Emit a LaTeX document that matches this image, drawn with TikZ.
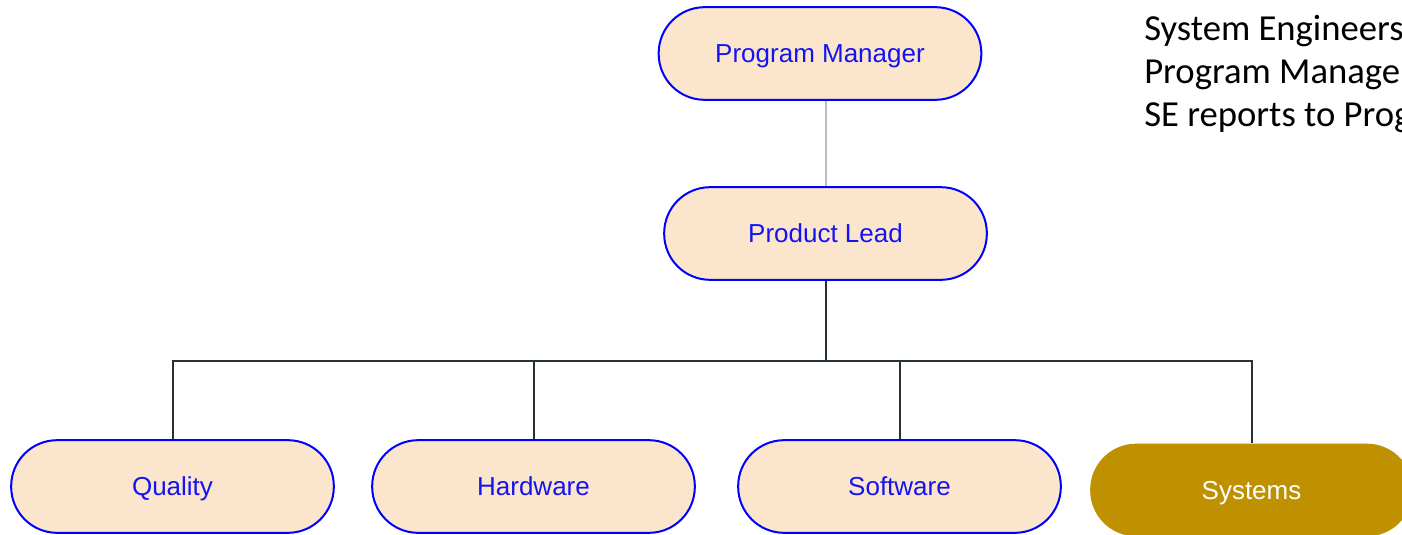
\documentclass[tikz,border=0pt]{standalone}
\usepackage{fontspec}
\setmainfont{Liberation Sans}
\newfontfamily\calib{Carlito}
\definecolor{peach}{HTML}{FCE5CD}
\definecolor{bordblue}{HTML}{0000FF}
\definecolor{txtblue}{HTML}{1414F0}
\definecolor{gold}{HTML}{BF9000}
\definecolor{slate}{HTML}{263238}
\definecolor{lgray}{HTML}{BDBDBD}
\begin{document}
\begin{tikzpicture}[x=0.75pt,y=-0.75pt,
  pillbase/.style={rounded corners=34.5pt, minimum width=242pt, minimum height=69.5pt,
    font=\fontsize{19.5}{22}\selectfont, inner sep=0pt, text height=14pt, text depth=0pt},
  pill/.style={pillbase, draw=bordblue, line width=1.5pt, fill=peach, text=txtblue},
  pillgold/.style={pillbase, fill=gold, text=white},
  conn/.style={draw=slate, line width=1.5pt},
  lconn/.style={draw=lgray, line width=1.5pt},
  note/.style={anchor=base west, font=\calib\fontsize{27.5}{32}\selectfont, inner sep=0pt}]
\useasboundingbox (0,0) rectangle (1402,535);
\clip (0,0) rectangle (1402,535);
\fill[white] (0,0) rectangle (1402,535);
\node[pill] (pm) at (820,53.5) {Program Manager};
\node[pill] (pl) at (825.5,233.5) {Product Lead};
\node[pill] (q) at (172.5,486.5) {Quality};
\node[pill] (hw) at (533.5,486.5) {Hardware};
\node[pill] (sw) at (899.5,486.5) {Software};
\node[pillgold] (sys) at (1251.5,490) {Systems};
\coordinate (bus) at (826,361);
\draw[lconn] (pm.south -| 826,0) -- (pl.north -| 826,0);
\draw[conn] (pl.south) -- (pl.south |- bus) -| (q.north);
\draw[conn] (pl.south) -- (pl.south |- bus) -| (hw.north);
\draw[conn] (pl.south) -- (pl.south |- bus) -| (sw.north);
\draw[conn] (pl.south) -- (pl.south |- bus) -| (sys.north);
\node[note] (n1) at (1144,41) {System Engineers};
\node[note] (n2) at (1144,84) {Program Manager};
\node[note] (n3) at (1144,127) {SE reports to Prog};
\end{tikzpicture}
\end{document}
